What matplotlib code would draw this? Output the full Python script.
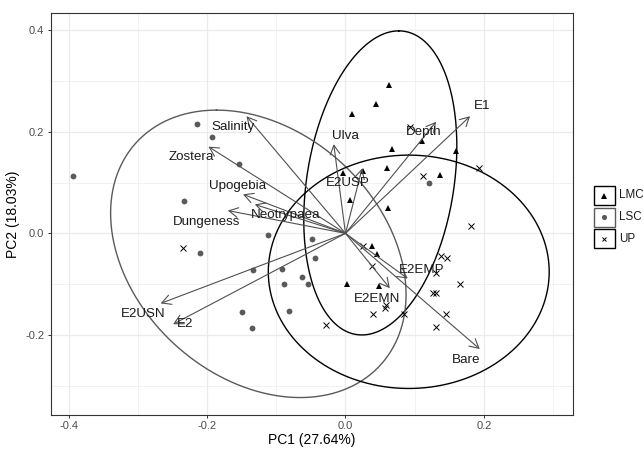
"""
PCA biplot of site scores (PC1 vs PC2) with loadings and group ellipses.
"""

import numpy as np
import matplotlib.pyplot as plt
from matplotlib.patches import Rectangle

plt.rcParams['font.family'] = ['Liberation Sans', 'DejaVu Sans']

# Site scores by group
lmc_pc1 = [0.0630, 0.0438, 0.0091, 0.1106, 0.0673, 0.1593, 0.0601, 0.1372,
           -0.0035, 0.0254, 0.0062, 0.0615, 0.0384, 0.0462, 0.0023, 0.0485]
lmc_pc2 = [0.2922, 0.2552, 0.2357, 0.1825, 0.1661, 0.1622, 0.1293, 0.1145,
           0.1182, 0.1222, 0.0662, 0.0502, -0.0250, -0.0414, -0.0999, -0.1033]

lsc_pc1 = [-0.2152, -0.1935, -0.1541, -0.3931, -0.2328, -0.2100, -0.1122, -0.1342,
           -0.0916, -0.0895, -0.0621, -0.0547, -0.0477, -0.0443, -0.1490, -0.0814,
           -0.1357, 0.1207]
lsc_pc2 = [0.2148, 0.1892, 0.1366, 0.1135, 0.0636, -0.0382, -0.0033, -0.0713,
           -0.0698, -0.1005, -0.0855, -0.1005, -0.0112, -0.0481, -0.1545, -0.1527,
           -0.1860, 0.0997]

up_pc1 = [-0.2345, 0.0929, 0.1121, 0.1928, 0.1814, 0.0250, 0.0390, 0.1386,
          0.1473, 0.1311, 0.1661, 0.1265, 0.1314, 0.0582, 0.0572, 0.0399,
          0.0842, 0.1448, 0.1314, -0.0287]
up_pc2 = [-0.0296, 0.2104, 0.1133, 0.1293, 0.0154, -0.0250, -0.0644, -0.0453,
          -0.0481, -0.0782, -0.0999, -0.1167, -0.1167, -0.1413, -0.1472, -0.1596,
          -0.1596, -0.1590, -0.1840, -0.1807]

# Loadings (arrow tips) and label positions
load_names = ['Salinity', 'Zostera', 'Upogebia', 'Dungeness', 'Neotrypaea',
              'E2USN', 'E2', 'Ulva', 'E2USP', 'Depth', 'E1', 'E2EMP',
              'E2EMN', 'Bare']
load_pc1 = [-0.143, -0.198, -0.148, -0.170, -0.131, -0.267, -0.249, -0.017,
            0.024, 0.131, 0.180, 0.090, 0.064, 0.194]
load_pc2 = [0.231, 0.171, 0.077, 0.045, 0.057, -0.138, -0.179, 0.176,
            0.128, 0.220, 0.231, -0.089, -0.108, -0.228]
lab_pc1 = [-0.162, -0.223, -0.156, -0.201, -0.086, -0.292, -0.232, 0.000,
           0.004, 0.113, 0.198, 0.110, 0.046, 0.174]
lab_pc2 = [0.210, 0.151, 0.093, 0.022, 0.036, -0.159, -0.179, 0.192,
           0.099, 0.200, 0.251, -0.072, -0.130, -0.250]

# Ellipse frames: centre, upper conjugate semi-diameter, horizontal semi-width
groups = ['LMC', 'LSC', 'UP']
ell_cx = [0.0503, -0.1259, 0.0914]
ell_cy = [0.0995, -0.0403, -0.0757]
ell_ux = [0.0267, -0.0604, 0.0]
ell_uy = [0.2997, 0.2833, 0.2300]
ell_vx = [0.1073, 0.2047, 0.2029]

GREY = '#5a5a5a'
group_style = {
    'LMC': dict(marker='^', color='black', ms=5, mew=0),
    'LSC': dict(marker='o', color=GREY, ms=4.2, mew=0),
    'UP': dict(marker='x', color='black', ms=4, mew=0.7),
}
frame_color = {'LMC': 'black', 'LSC': GREY, 'UP': 'black'}

fig = plt.figure(figsize=(6.43, 4.49), dpi=100)
ax = fig.add_axes([0.0787, 0.0757, 0.8117, 0.896])

# grid (theme_bw look)
ax.set_xlim(-0.426, 0.328)
ax.set_ylim(-0.358, 0.435)
ax.set_xticks([-0.4, -0.2, 0.0, 0.2])
ax.set_xticklabels(['-0.4', '-0.2', '0.0', '0.2'])
ax.set_yticks([-0.2, 0.0, 0.2, 0.4])
ax.set_yticklabels(['-0.2', '0.0', '0.2', '0.4'])
ax.set_xticks([-0.3, -0.1, 0.1, 0.3], minor=True)
ax.set_yticks([-0.3, -0.1, 0.1, 0.3], minor=True)
ax.grid(True, which='major', color='#ebebeb', lw=0.9)
ax.grid(True, which='minor', color='#ebebeb', lw=0.45)
ax.set_axisbelow(True)
ax.tick_params(which='major', length=2.5, width=0.7, color='#333333',
               labelsize=8, labelcolor='#4d4d4d', pad=2)
ax.tick_params(which='minor', length=0)
for sp in ax.spines.values():
    sp.set_color('#333333')
    sp.set_linewidth(0.8)

# points
for g, xs, ys in [('LMC', lmc_pc1, lmc_pc2), ('LSC', lsc_pc1, lsc_pc2),
                  ('UP', up_pc1, up_pc2)]:
    st = group_style[g]
    ax.plot(xs, ys, ls='none', marker=st['marker'], color=st['color'],
            ms=st['ms'], mew=st['mew'], zorder=3)

# ellipses
t = np.linspace(0, 2 * np.pi, 300)
for i, g in enumerate(groups):
    ex = ell_cx[i] + ell_ux[i] * np.cos(t) + ell_vx[i] * np.sin(t)
    ey = ell_cy[i] + ell_uy[i] * np.cos(t)
    ax.plot(ex, ey, color=frame_color[g], lw=1.0, zorder=2)

# loadings
for i, name in enumerate(load_names):
    ax.annotate('', xy=(load_pc1[i], load_pc2[i]), xytext=(0, 0),
                arrowprops=dict(arrowstyle='->,head_length=0.65,head_width=0.35',
                                color='#505050', lw=0.8, shrinkA=0, shrinkB=0,
                                mutation_scale=10),
                zorder=4)
    ax.text(lab_pc1[i], lab_pc2[i], name, ha='center', va='center',
            fontsize=9.6, color='#1a1a1a', zorder=5)

ax.set_xlabel('PC1 (27.64%)', fontsize=10, labelpad=1.5)
ax.set_ylabel('PC2 (18.03%)', fontsize=10, labelpad=4)

# legend drawn as keys with group-coloured frames
lax = fig.add_axes([590 / 643, 1 - 252 / 449, 53 / 643, 70 / 449])
lax.set_xlim(590, 643)
lax.set_ylim(252, 182)
lax.axis('off')
key_y = [195.5, 217, 238.5]
for g, yc in zip(groups, key_y):
    st = group_style[g]
    lax.add_patch(Rectangle((593.5, yc - 9.5), 21.5, 19, fill=False,
                            ec=frame_color[g], lw=1.0, clip_on=False))
    lax.plot([604.25], [yc], ls='none', marker=st['marker'], color=st['color'],
             ms=st['ms'] - 0.5, mew=st['mew'], clip_on=False)
    lax.text(619, yc, g, ha='left', va='center', fontsize=8.4,
             color='#1a1a1a', clip_on=False)

fig.savefig('out.png', dpi=100, facecolor='white')
